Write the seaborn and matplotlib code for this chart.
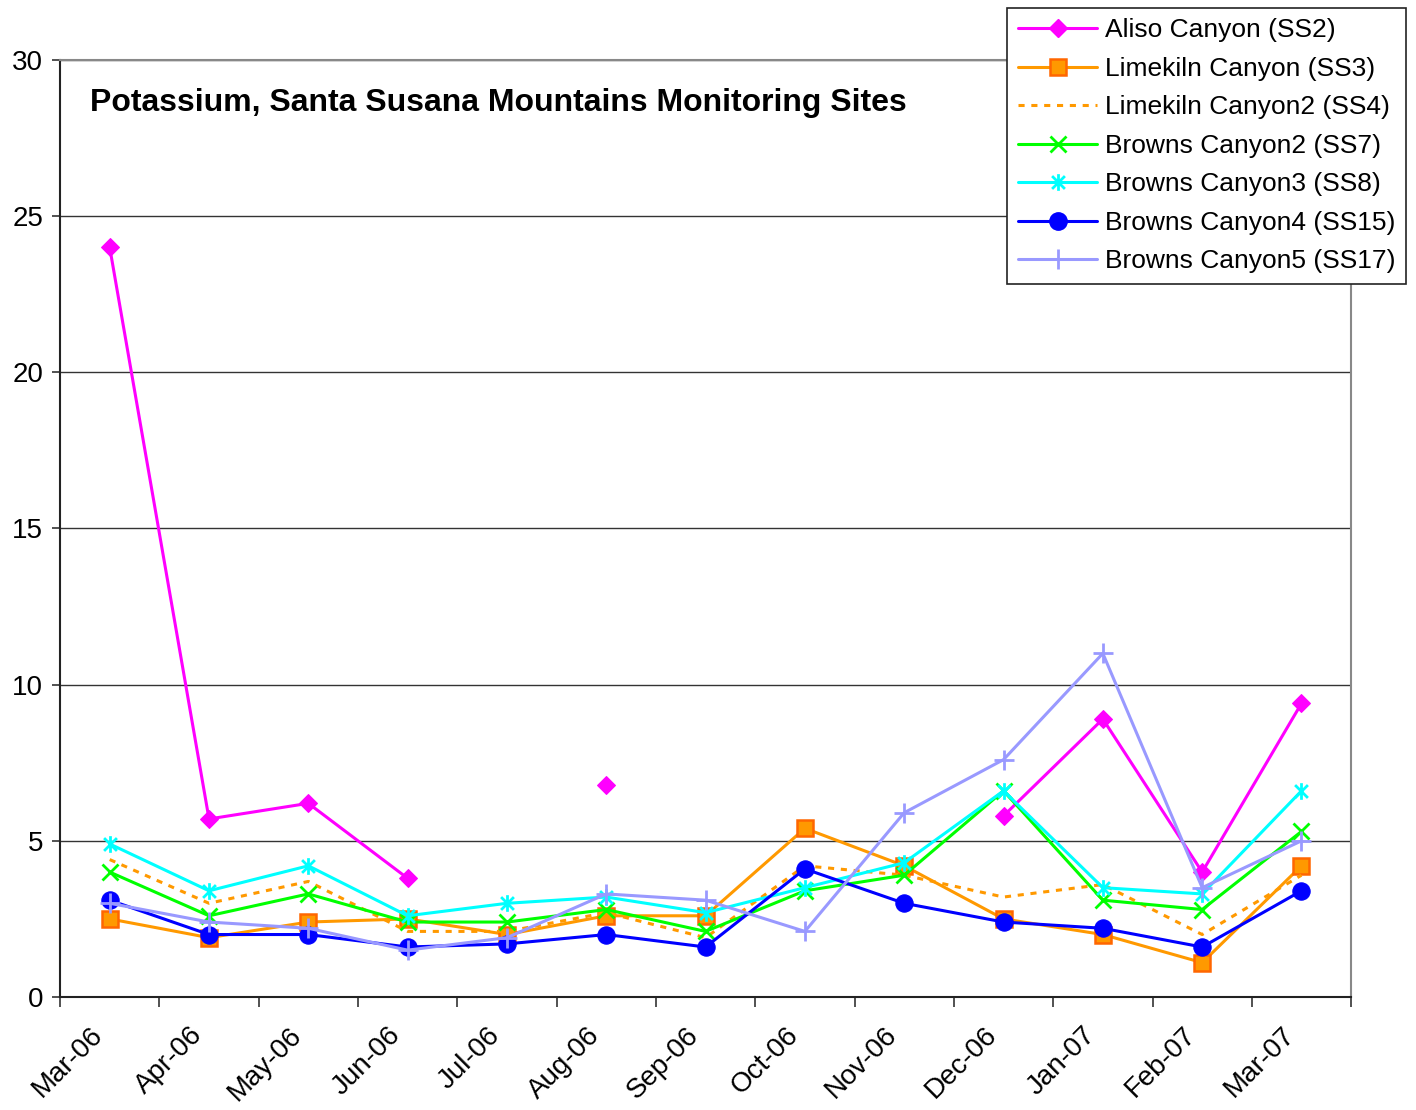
import matplotlib
matplotlib.use("Agg")
import matplotlib.pyplot as plt
import matplotlib.transforms as mtransforms
from matplotlib.lines import Line2D
from matplotlib.path import Path
import numpy as np
import pandas as pd
import seaborn as sns

# data (mg/L)
months = ["Mar-06", "Apr-06", "May-06", "Jun-06", "Jul-06", "Aug-06", "Sep-06",
          "Oct-06", "Nov-06", "Dec-06", "Jan-07", "Feb-07", "Mar-07"]
nan = np.nan
aliso_ss2 = [24.0, 5.7, 6.2, 3.8, nan, 6.8, nan, nan, nan, 5.8, 8.9, 4.0, 9.4]
limekiln_ss3 = [2.5, 1.9, 2.4, 2.5, 2.0, 2.6, 2.6, 5.4, 4.2, 2.5, 2.0, 1.1, 4.2]
limekiln2_ss4 = [4.4, 3.0, 3.7, 2.1, 2.1, 2.7, 1.9, 4.2, 3.9, 3.2, 3.6, 2.0, 3.9]
browns2_ss7 = [4.0, 2.6, 3.3, 2.4, 2.4, 2.8, 2.1, 3.4, 3.9, 6.6, 3.1, 2.8, 5.3]
browns3_ss8 = [4.9, 3.4, 4.2, 2.6, 3.0, 3.2, 2.7, 3.5, 4.3, 6.6, 3.5, 3.3, 6.6]
browns4_ss15 = [3.1, 2.0, 2.0, 1.6, 1.7, 2.0, 1.6, 4.1, 3.0, 2.4, 2.2, 1.6, 3.4]
browns5_ss17 = [3.0, 2.4, 2.2, 1.5, 1.9, 3.3, 3.1, 2.1, 5.9, 7.6, 11.0, 3.5, 5.0]

# Excel-style asterisk: an x with a vertical bar through it
asterisk = Path([(-1, -1), (1, 1), (-1, 1), (1, -1), (0, -1.3), (0, 1.3)],
                [Path.MOVETO, Path.LINETO, Path.MOVETO, Path.LINETO,
                 Path.MOVETO, Path.LINETO])

series = [
    ("Aliso Canyon (SS2)", aliso_ss2,
     dict(color="#FF00FF", marker="D", markersize=9.5, markerfacecolor="#FF00FF",
          markeredgecolor="#FF00FF", linestyle="-")),
    ("Limekiln Canyon (SS3)", limekiln_ss3,
     dict(color="#FF9900", marker="s", markersize=11, markerfacecolor="#FF9900",
          markeredgecolor="#FF6600", markeredgewidth=1.8, linestyle="-")),
    ("Limekiln Canyon2 (SS4)", limekiln2_ss4,
     dict(color="#FF9900", marker="", linestyle=(0, (2, 2.2)))),
    ("Browns Canyon2 (SS7)", browns2_ss7,
     dict(color="#00FF00", marker="x", markersize=12, markeredgewidth=2,
          markeredgecolor="#00FF00", linestyle="-")),
    ("Browns Canyon3 (SS8)", browns3_ss8,
     dict(color="#00FFFF", marker=asterisk, markersize=12, markeredgewidth=2,
          markeredgecolor="#00FFFF", linestyle="-")),
    ("Browns Canyon4 (SS15)", browns4_ss15,
     dict(color="#0000FF", marker="o", markersize=12.5, markerfacecolor="#0000FF",
          markeredgecolor="#0000FF", linestyle="-")),
    ("Browns Canyon5 (SS17)", browns5_ss17,
     dict(color="#9999FF", marker="+", markersize=15, markeredgewidth=2,
          markeredgecolor="#9999FF", linestyle="-")),
]

sns.set_style("white")
plt.rcParams["font.family"] = ["Liberation Sans", "DejaVu Sans"]
plt.rcParams["text.color"] = "black"
plt.rcParams["xtick.labelcolor"] = "black"
plt.rcParams["ytick.labelcolor"] = "black"

fig = plt.figure(figsize=(14.16, 11.10), dpi=100)
ax = fig.add_axes([0.0424, 0.1018, 0.9118, 0.8442])

x = np.arange(len(months))
handles = []
for name, vals, style in series:
    df = pd.DataFrame({"x": x, "y": vals})
    # split into runs so gaps are not bridged
    df["seg"] = df["y"].isna().cumsum()
    df = df.dropna()
    sns.lineplot(data=df, x="x", y="y", units="seg", estimator=None, ax=ax,
                 linewidth=2.2, legend=False, **style)
    handles.append(Line2D([], [], linewidth=2.2, label=name, **style))

ax.set_xlim(-0.5, len(months) - 0.5)
ax.set_ylim(0, 30)
ax.set_yticks(np.arange(0, 31, 5))
ax.set_xticks(x)
ax.set_xticklabels(months, rotation=45, ha="right", rotation_mode="anchor")
ax.set_xticks(np.arange(-0.5, len(months), 1), minor=True)
ax.tick_params(axis="x", which="major", length=0, pad=18, labelsize=20)
ax.tick_params(axis="x", which="minor", length=7, width=1.2, color="#333333",
               direction="out", bottom=True)
ax.tick_params(axis="y", length=6, width=1.2, color="#333333", left=True,
               labelsize=20, pad=6)
ax.set_xlabel("")
ax.set_ylabel("")

# nudge rotated month labels left, like the original
shift = mtransforms.ScaledTranslation(-20 / 100, 0, fig.dpi_scale_trans)
for lbl in ax.get_xticklabels():
    lbl.set_transform(lbl.get_transform() + shift)

ax.yaxis.grid(True, color="#333333", linewidth=1)
ax.set_axisbelow(True)
for side in ["left", "bottom"]:
    ax.spines[side].set_color("#222222")
    ax.spines[side].set_linewidth(1.5)
for side in ["top", "right"]:
    ax.spines[side].set_color("#888888")
    ax.spines[side].set_linewidth(1.5)

ax.text(0.023, 0.9696, "Potassium, Santa Susana Mountains Monitoring Sites",
        transform=ax.transAxes, fontsize=23, fontweight="bold", va="top", ha="left")

leg = fig.legend(handles=handles, loc="upper right", bbox_to_anchor=(0.993, 0.993),
                 fontsize=19, frameon=True, fancybox=False, framealpha=1,
                 edgecolor="#222222", handlelength=3.0, handletextpad=0.3,
                 labelspacing=0.55, borderpad=0.4, borderaxespad=0)
leg.get_frame().set_linewidth(1.2)

fig.savefig("out.png", dpi=100)
